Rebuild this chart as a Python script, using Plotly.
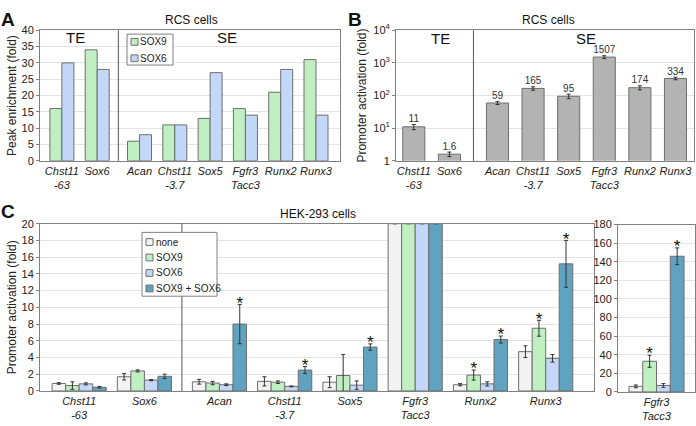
import plotly.graph_objects as go

W, H = 696, 426
FONT = "Liberation Sans, Arial, sans-serif"

# ---------------- data ----------------
genes = ["Chst11<br>-63", "Sox6", "Acan", "Chst11<br>-3.7", "Sox5",
         "Fgfr3<br>Tacc3", "Runx2", "Runx3"]

# Panel A: peak enrichment (fold), RCS cells
a_series = ["SOX9", "SOX6"]
a_sox9 = [16, 34, 6, 11, 13, 16, 21, 31]
a_sox6 = [30, 28, 8, 11, 27, 14, 28, 14]

# Panel B: promoter activation (fold), RCS cells
b_values = [11, 1.6, 59, 165, 95, 1507, 174, 334]
b_err = [2, 0.25, 6, 20, 15, 150, 25, 30]
b_labels = ["11", "1.6", "59", "165", "95", "1507", "174", "334"]

# Panel C: promoter activation (fold), HEK-293 cells (Fgfr3/Tacc3 off-scale -> inset)
c_series = ["none", "SOX9", "SOX6", "SOX9 + SOX6"]
c_none = [0.9, 1.7, 1.1, 1.15, 1.05, None, 0.75, 4.7]
c_none_err = [0.1, 0.38, 0.28, 0.55, 0.65, None, 0.13, 0.7]
c_sox9 = [0.65, 2.4, 0.95, 1.05, 1.85, None, 1.9, 7.5]
c_sox9_err = [0.45, 0.12, 0.2, 0.15, 2.5, None, 0.6, 0.95]
c_sox6 = [0.85, 1.3, 0.75, 0.55, 0.7, None, 0.85, 3.9]
c_sox6_err = [0.12, 0.07, 0.1, 0.05, 0.5, None, 0.25, 0.45]
c_both = [0.45, 1.75, 8.0, 2.5, 5.25, None, 6.15, 15.2]
c_both_err = [0.1, 0.25, 2.35, 0.42, 0.38, None, 0.42, 2.8]
c_sig_sox9 = [0, 0, 0, 0, 0, 0, 1, 1]
c_sig_both = [0, 0, 1, 1, 1, 0, 1, 1]

# Inset: Fgfr3/Tacc3
inset_gene = ["Fgfr3<br>Tacc3"]
inset_vals = [6, 33, 7, 146]
inset_err = [1.5, 6.5, 2, 9]
inset_sig = [0, 1, 0, 1]

# ---------------- styles ----------------
GREEN = "#c0efc2"
BLUE = "#c3d8f8"
NONE_C = "#f3f3f3"
TEAL = "#5fa3c1"
GRAY_BAR = "#b3b3b3"
OUTLINE = "#6e6e6e"
AXIS = "#808080"
GRID = "#e4e4e4"
TXT = "#222222"

c_colors = [NONE_C, GREEN, BLUE, TEAL]
a_colors = [GREEN, BLUE]


def positions(n, gap, split=2):
    return [i + (gap if i >= split else 0) for i in range(n)]


pos_a = positions(8, 0.2)
pos_b = positions(8, 0.35)
pos_c = positions(8, 0.15)

fig = go.Figure()

# ---- Panel A ----
bw_a = 0.34
for k, vals in enumerate([a_sox9, a_sox6]):
    fig.add_trace(go.Bar(
        x=pos_a, y=vals, name=a_series[k], width=bw_a, offset=-bw_a + k * bw_a,
        marker=dict(color=a_colors[k], line=dict(color=OUTLINE, width=1)),
        showlegend=False, xaxis="x", yaxis="y"))

# ---- Panel B ----
bw_b = 0.62
fig.add_trace(go.Bar(
    x=pos_b, y=b_values, width=bw_b, showlegend=False,
    marker=dict(color=GRAY_BAR, line=dict(color=OUTLINE, width=1)),
    error_y=dict(type="data", array=b_err, color="#333333", thickness=1, width=2),
    xaxis="x2", yaxis="y2"))
fig.add_trace(go.Scatter(
    x=pos_b, y=[v + e for v, e in zip(b_values, b_err)], text=b_labels,
    mode="text", textposition="top center", showlegend=False, cliponaxis=False,
    textfont=dict(size=10, color="#333333", family=FONT),
    xaxis="x2", yaxis="y2"))

# ---- Panel C main ----
bw_c = 0.2075
C_YMAX = 20
c_vals = [c_none, c_sox9, c_sox6, c_both]
c_errs = [c_none_err, c_sox9_err, c_sox6_err, c_both_err]
fg_idx = 5  # Fgfr3/Tacc3 is off-scale in the main panel (drawn up to the axis top)
for k in range(4):
    off = -2 * bw_c + k * bw_c
    yv = [C_YMAX if i == fg_idx else v for i, v in enumerate(c_vals[k])]
    fig.add_trace(go.Bar(
        x=pos_c, y=yv, name=c_series[k], width=bw_c, offset=off,
        marker=dict(color=c_colors[k], line=dict(color=OUTLINE, width=1)),
        error_y=dict(type="data", array=[0 if e is None else e for e in c_errs[k]],
                     color="#333333", thickness=1, width=2),
        showlegend=False, xaxis="x3", yaxis="y3"))

STAR = dict(size=17, color="#111111", family=FONT)
for k, sig in [(1, c_sig_sox9), (3, c_sig_both)]:
    off = -2 * bw_c + k * bw_c + bw_c / 2
    xs, ys = [], []
    for i, s in enumerate(sig):
        if s:
            xs.append(pos_c[i] + off)
            ys.append(c_vals[k][i] + c_errs[k][i])
    fig.add_trace(go.Scatter(
        x=xs, y=ys, text=["*"] * len(xs), mode="text", textposition="middle center",
        showlegend=False, cliponaxis=False, textfont=STAR,
        xaxis="x3", yaxis="y3"))

# ---- Inset ----
for k in range(4):
    off = -2 * bw_c + k * bw_c
    fig.add_trace(go.Bar(
        x=[0], y=[inset_vals[k]], width=bw_c, offset=off, showlegend=False,
        marker=dict(color=c_colors[k], line=dict(color=OUTLINE, width=1)),
        error_y=dict(type="data", array=[inset_err[k]], color="#333333", thickness=1, width=2),
        xaxis="x4", yaxis="y4"))
xs, ys = [], []
for k, s in enumerate(inset_sig):
    if s:
        xs.append(-2 * bw_c + k * bw_c + bw_c / 2)
        ys.append(inset_vals[k] + inset_err[k])
fig.add_trace(go.Scatter(
    x=xs, y=ys, text=["*"] * len(xs), mode="text", textposition="middle center",
    showlegend=False, cliponaxis=False, textfont=STAR,
    xaxis="x4", yaxis="y4"))


def px_x(a, b):
    return [a / W, b / W]


def px_y(top, bottom):
    return [(H - bottom) / H, (H - top) / H]


axis_common = dict(showline=True, linecolor=AXIS, linewidth=1, mirror=True,
                   tickfont=dict(family=FONT, size=11, color=TXT))
xcat = dict(axis_common, showgrid=False, zeroline=False, ticks="", tickangle=0,
            tickfont=dict(family=FONT, size=11, color=TXT, style="italic"))
ycommon = dict(axis_common, showgrid=True, gridcolor=GRID, zeroline=False,
               ticks="outside", ticklen=3, tickcolor=AXIS)
YT = dict(size=12, family=FONT, color=TXT)

fig.update_layout(
    width=W, height=H, margin=dict(l=0, r=0, t=0, b=0),
    paper_bgcolor="white", plot_bgcolor="white",
    barmode="overlay", font=dict(family=FONT, color=TXT), showlegend=False,
    xaxis=dict(xcat, domain=px_x(40, 340), range=[-0.62, 7.88], anchor="y",
               tickvals=pos_a, ticktext=genes),
    yaxis=dict(ycommon, domain=px_y(23, 158), range=[0, 40], dtick=5, anchor="x",
               title=dict(text="Peak enrichment (fold)", font=YT, standoff=2)),
    xaxis2=dict(xcat, domain=px_x(396, 694), range=[-0.5, 7.87], anchor="y2",
                tickvals=pos_b, ticktext=genes),
    yaxis2=dict(ycommon, domain=px_y(23, 158), type="log", range=[0, 4], anchor="x2",
                tickvals=[1, 10, 100, 1000, 10000],
                ticktext=["1", "10<sup>1</sup>", "10<sup>2</sup>", "10<sup>3</sup>", "10<sup>4</sup>"],
                title=dict(text="Promoter activation (fold)", font=YT, standoff=4)),
    xaxis3=dict(xcat, domain=px_x(40, 594), range=[-0.6, 7.89], anchor="y3",
                tickvals=pos_c, ticktext=genes),
    yaxis3=dict(ycommon, domain=px_y(223, 396), range=[0, C_YMAX], dtick=2, anchor="x3",
                title=dict(text="Promoter activation (fold)", font=YT, standoff=2)),
    xaxis4=dict(xcat, domain=px_x(618, 695), range=[-0.58, 0.58], anchor="y4",
                tickvals=[0], ticktext=inset_gene),
    yaxis4=dict(ycommon, domain=px_y(224, 397), range=[0, 180], dtick=20, anchor="x4"),
)

# divider lines (between TE and SE groups)
for xa, ya, p in [("x", "y", pos_a), ("x2", "y2", pos_b), ("x3", "y3", pos_c)]:
    xm = (p[1] + p[2]) / 2
    fig.add_shape(type="line", xref=xa, yref=ya + " domain", x0=xm, x1=xm, y0=0, y1=1,
                  line=dict(color="#555555", width=1), layer="above")


# legends (boxed, drawn over the plot like the original)
def add_legend(box, rows_y, names, colors, sq_x, txt_x, sq=7):
    x0, y0, x1, y1 = box
    fig.add_shape(type="rect", xref="paper", yref="paper",
                  x0=x0 / W, x1=x1 / W, y0=1 - y1 / H, y1=1 - y0 / H,
                  line=dict(color=AXIS, width=1), fillcolor="white", layer="above")
    for name, col, ry in zip(names, colors, rows_y):
        fig.add_shape(type="rect", xref="paper", yref="paper",
                      x0=sq_x / W, x1=(sq_x + sq) / W,
                      y0=1 - (ry + sq / 2) / H, y1=1 - (ry - sq / 2) / H,
                      line=dict(color=OUTLINE, width=1), fillcolor=col, layer="above")
        fig.add_annotation(text=name, x=txt_x / W, y=1 - ry / H, xref="paper", yref="paper",
                           showarrow=False, xanchor="left", yanchor="middle",
                           font=dict(family=FONT, size=10, color=TXT))


add_legend((127, 27, 173, 59), [35, 52], a_series, a_colors, 131, 138)
add_legend((142, 232, 217, 298), [242, 258, 274, 290], c_series, c_colors, 146, 154)

ann = [
    ("A", 8, 12, 19, True), ("B", 355, 12, 19, True), ("C", 8, 210, 19, True),
    ("RCS cells", 191, 12, 12, False), ("RCS cells", 548, 12, 12, False),
    ("HEK-293 cells", 318, 213, 12, False),
    ("TE", 75, 30, 15, False), ("SE", 227, 30, 15, False),
    ("TE", 440, 32, 15, False), ("SE", 586, 32, 15, False),
]
for t, x, y, s, b in ann:
    fig.add_annotation(text=f"<b>{t}</b>" if b else t, x=x / W, y=1 - y / H,
                       xref="paper", yref="paper", showarrow=False,
                       xanchor="center", yanchor="middle",
                       font=dict(family=FONT, size=s, color="#111111"))

fig.write_html("out.html", config={"displayModeBar": False},
               post_script="document.body.style.margin='0px';")
